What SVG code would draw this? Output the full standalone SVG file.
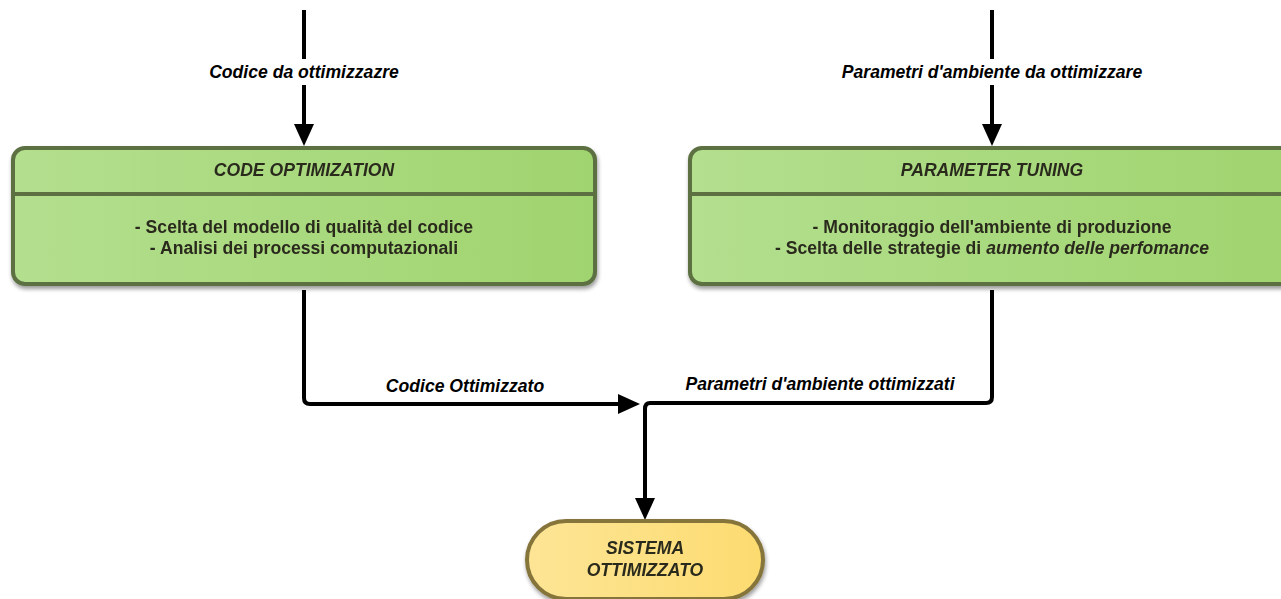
<svg xmlns="http://www.w3.org/2000/svg" width="1281" height="599" viewBox="0 0 1281 599">
<defs>
<linearGradient id="gg" x1="0" y1="0" x2="1" y2="0"><stop offset="0" stop-color="#b3df8e"/><stop offset="1" stop-color="#a0d46f"/></linearGradient>
<linearGradient id="yg" x1="0" y1="0" x2="1" y2="0"><stop offset="0" stop-color="#fde596"/><stop offset="1" stop-color="#fcdb70"/></linearGradient>
<filter id="sh" x="-5%" y="-10%" width="110%" height="130%"><feGaussianBlur in="SourceAlpha" stdDeviation="2"/><feOffset dx="1" dy="3"/><feComponentTransfer><feFuncA type="linear" slope="0.4"/></feComponentTransfer><feMerge><feMergeNode/><feMergeNode in="SourceGraphic"/></feMerge></filter>
</defs>
<style>
.box{fill:url(#gg);stroke:#5b7043;stroke-width:4}
.div{stroke:#5b7043;stroke-width:4}
.term{fill:url(#yg);stroke:#85743a;stroke-width:4}
.t{font-family:"Liberation Sans",Arial,sans-serif;font-weight:bold;font-size:17.6px;fill:#2b2b1e;text-anchor:middle}
.i{font-style:italic}
.lbl{font-family:"Liberation Sans",Arial,sans-serif;font-weight:bold;font-style:italic;font-size:17.6px;fill:#000;text-anchor:middle}
.c{fill:none;stroke:#000;stroke-width:4;stroke-linejoin:round}
.ah{fill:#000}
.bg{fill:#fff}
</style>
<rect width="1281" height="599" fill="#fff"/>
<g id="connectors">
<path class="c" d="M304,10 V124"/>
<path class="ah" d="M294,124 L314,124 L304,146 Z"/>
<path class="c" d="M992,10 V124"/>
<path class="ah" d="M982,124 L1002,124 L992,146 Z"/>
<path class="c" d="M304,290 V398 Q304,404 310,404 H618"/>
<path class="ah" d="M618,394 L618,414 L640,404 Z"/>
<path class="c" d="M992,290 V397 Q992,403 986,403 H650 Q645,403 645,409 V498"/>
<path class="ah" d="M635,498 L655,498 L645,520 Z"/>
<rect class="bg" x="204" y="59" width="200" height="26"/>
<text class="lbl" x="304" y="78">Codice da ottimizzazre</text>
<rect class="bg" x="838" y="59" width="308" height="26"/>
<text class="lbl" x="992" y="78">Parametri d'ambiente da ottimizzare</text>
<text class="lbl" x="465" y="392">Codice Ottimizzato</text>
<text class="lbl" x="820" y="390">Parametri d'ambiente ottimizzati</text>
</g>
<g id="code-optimization" filter="url(#sh)">
<rect class="box" x="13" y="148" width="582" height="136" rx="12"/>
<line class="div" x1="13" y1="194" x2="595" y2="194"/>
<text class="t i" x="304" y="176">CODE OPTIMIZATION</text>
<text class="t" x="304" y="233">- Scelta del modello di qualità del codice</text>
<text class="t" x="304" y="254">- Analisi dei processi computazionali</text>
</g>
<g id="parameter-tuning" filter="url(#sh)">
<rect class="box" x="690" y="148" width="606" height="136" rx="12"/>
<line class="div" x1="690" y1="194" x2="1296" y2="194"/>
<text class="t i" x="992" y="176">PARAMETER TUNING</text>
<text class="t" x="992" y="233">- Monitoraggio dell'ambiente di produzione</text>
<text class="t" x="992" y="254">- Scelta delle strategie di <tspan class="i">aumento delle perfomance</tspan></text>
</g>
<g id="sistema-ottimizzato" filter="url(#sh)">
<rect class="term" x="527" y="521" width="236" height="78" rx="39"/>
<text class="t i" x="645" y="554">SISTEMA</text>
<text class="t i" x="645" y="576">OTTIMIZZATO</text>
</g>
</svg>
